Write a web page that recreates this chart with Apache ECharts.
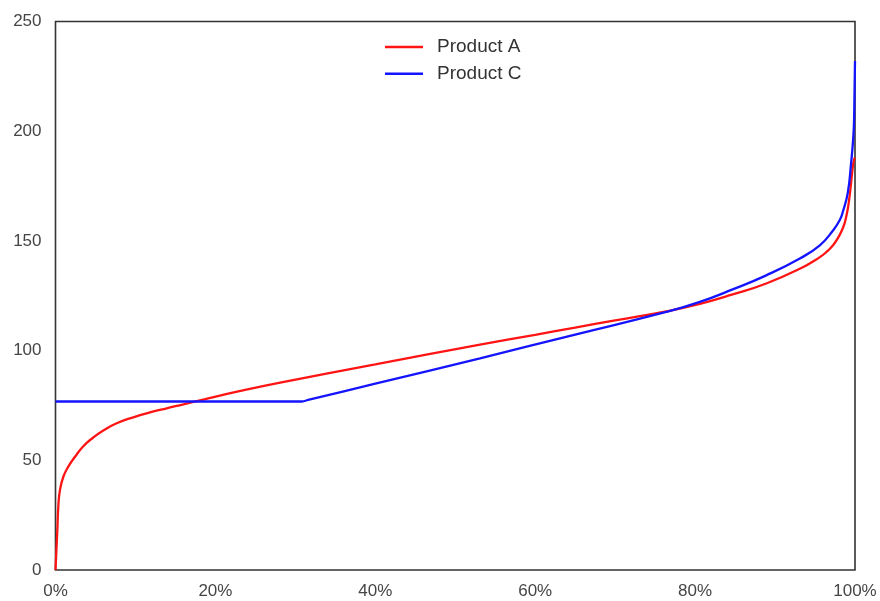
<!DOCTYPE html>
<html>
<head>
<meta charset="utf-8">
<script src="https://cdn.jsdelivr.net/npm/echarts@6/dist/echarts.min.js"></script>
<style>
  html, body { margin: 0; padding: 0; background: #fff; }
  #chart { width: 880px; height: 601px; }
</style>
</head>
<body>
<div id="chart"></div>
<script>
// Percentile positions (%) and values for each product
const pctA = [0, 0.1, 0.23, 0.35, 0.56, 0.98, 1.6, 2.44, 3.48, 4.73, 5.98, 7.65, 9.73, 11.8, 13.9, 16, 18.5, 23, 28.1, 40, 53.1, 60, 65, 70, 76.4, 80.6, 84.7, 88.9, 93.1, 95.6, 96.5, 97.2, 97.8, 98.5, 98.9, 99.2, 99.5, 99.7, 99.85, 100];
const valA = [0, 8, 18.2, 28.9, 36.5, 42.5, 47.1, 51.6, 56.4, 60.4, 63.6, 66.9, 69.6, 71.8, 73.7, 75.5, 77.7, 81.5, 85.4, 93.7, 102.7, 107.2, 110.5, 113.8, 117.9, 121.3, 125.6, 130.6, 137.3, 142.6, 145.2, 147.8, 150.9, 156, 161, 167, 176, 183, 186.5, 188];

const pctC = [0, 15, 30.8, 31.6, 40, 53.1, 65, 76.4, 80.6, 84.7, 88.9, 93.1, 95.6, 97.2, 98.1, 98.5, 99.1, 99.5, 99.8, 99.9, 100];
const valC = [76.8, 76.8, 76.8, 77.5, 84.9, 96.5, 107.3, 117.6, 122.2, 127.9, 134.3, 142, 148, 154.5, 159.5, 163.5, 172, 185, 198, 208, 232];

const seriesNames = ['Product A', 'Product C'];
const seriesColors = ['#ff1414', '#1414ff'];
const xTicks = [0, 20, 40, 60, 80, 100];
const yTicks = [0, 50, 100, 150, 200, 250];

const pairs = (xs, ys) => xs.map((x, i) => [x, ys[i]]);

const chart = echarts.init(document.getElementById('chart'), null, { renderer: 'canvas' });
const labelFont = { color: '#454545', fontSize: 17, fontFamily: 'Liberation Sans' };

chart.setOption({
  animation: false,
  backgroundColor: '#ffffff',
  grid: {
    left: 55.5, right: 25, top: 21.5, bottom: 31,
    show: true, borderColor: '#333333', borderWidth: 1.6, backgroundColor: '#ffffff'
  },
  legend: {
    orient: 'vertical',
    left: 380, top: 32,
    icon: 'rect',
    itemWidth: 38, itemHeight: 2.6, itemGap: 6.8,
    textStyle: { color: '#333333', fontSize: 19, lineHeight: 20, fontFamily: 'Liberation Sans', padding: [0, 0, 0, 9] },
    data: seriesNames
  },
  xAxis: {
    type: 'value', min: xTicks[0], max: xTicks[xTicks.length - 1], interval: 20,
    axisLine: { show: false }, axisTick: { show: false }, splitLine: { show: false },
    axisLabel: Object.assign({ margin: 13, formatter: v => v + '%' }, labelFont)
  },
  yAxis: {
    type: 'value', min: yTicks[0], max: yTicks[yTicks.length - 1], interval: 50,
    axisLine: { show: false }, axisTick: { show: false }, splitLine: { show: false },
    axisLabel: Object.assign({ margin: 14 }, labelFont)
  },
  series: [0, 1].map(i => ({
    name: seriesNames[i], type: 'line',
    data: i === 0 ? pairs(pctA, valA) : pairs(pctC, valC),
    symbol: 'none', smooth: 0.5,
    lineStyle: { color: seriesColors[i], width: 2.3 }, itemStyle: { color: seriesColors[i] }
  }))
});
</script>
</body>
</html>
